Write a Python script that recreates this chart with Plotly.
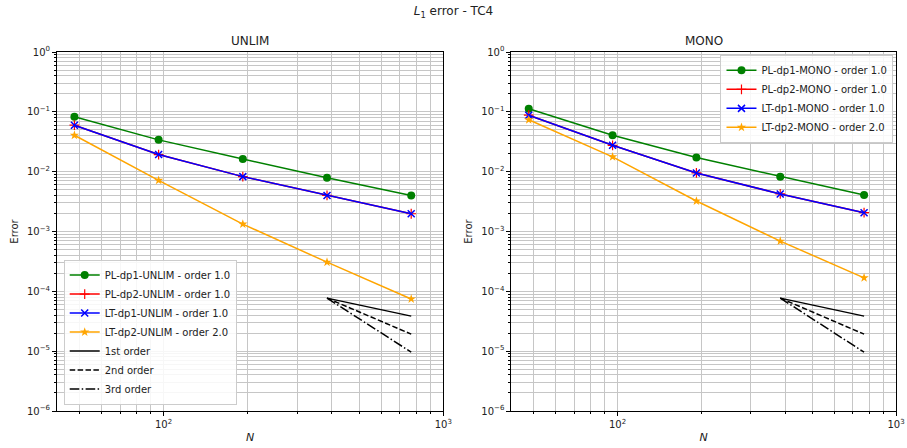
import numpy as np
import plotly.graph_objects as go
from plotly.subplots import make_subplots

N = [48, 96, 192, 384, 768]

unlim_pl_dp1 = [0.0826, 0.0340, 0.0163, 0.00794, 0.00401]
unlim_pl_dp2 = [0.0598, 0.0193, 0.00826, 0.00401, 0.00198]
unlim_lt_dp1 = [0.0598, 0.0193, 0.00826, 0.00401, 0.00198]
unlim_lt_dp2 = [0.0406, 0.00716, 0.00133, 0.000307, 0.0000745]

mono_pl_dp1 = [0.1125, 0.0406, 0.0172, 0.00826, 0.00407]
mono_pl_dp2 = [0.0879, 0.0276, 0.00952, 0.00424, 0.00206]
mono_lt_dp1 = [0.0879, 0.0276, 0.00952, 0.00424, 0.00206]
mono_lt_dp2 = [0.0736, 0.0177, 0.00323, 0.00069, 0.000168]

ref_N = [384, 768]
ref_start = 7.7e-5
ref_orders = [1, 2, 3]
ref_names = ["1st order", "2nd order", "3rd order"]
ref_dash = ["solid", "5.5px,2.4px", "9.6px,2.4px,1.5px,2.4px"]

y_tickvals = [1e-6, 1e-5, 1e-4, 1e-3, 1e-2, 1e-1, 1]
y_ticktext = ["10<sup>−6</sup>", "10<sup>−5</sup>", "10<sup>−4</sup>", "10<sup>−3</sup>",
              "10<sup>−2</sup>", "10<sup>−1</sup>", "10<sup>0</sup>"]
x_tickvals = [100, 1000]
x_ticktext = ["10<sup>2</sup>", "10<sup>3</sup>"]

FONT = "DejaVu Sans"

fig = make_subplots(rows=1, cols=2, horizontal_spacing=0.08)

styles = [
    ("green", "circle", 8, None),
    ("red", "cross-thin-open", 7, 1.2),
    ("blue", "x-thin-open", 7, 1.5),
    ("orange", "star", 7, None),
]

def add_panel(col, label, series, legend):
    names = [f"PL-dp1-{label} - order 1.0", f"PL-dp2-{label} - order 1.0",
             f"LT-dp1-{label} - order 1.0", f"LT-dp2-{label} - order 2.0"]
    for (color, sym, size, lw), name, vals in zip(styles, names, series):
        marker = dict(color=color, symbol=sym, size=size)
        if lw:
            marker["line"] = dict(color=color, width=lw)
        else:
            marker["line"] = dict(width=0)
        fig.add_trace(go.Scatter(x=N, y=vals, mode="lines+markers", name=name,
                                 line=dict(color=color, width=1.5), marker=marker,
                                 legend=legend), row=1, col=col)
    for o, nm, d in zip(ref_orders, ref_names, ref_dash):
        yv = [ref_start * (n / ref_N[0]) ** (-o) for n in ref_N]
        fig.add_trace(go.Scatter(x=ref_N, y=yv, mode="lines", name=nm,
                                 line=dict(color="black", width=1.5, dash=d),
                                 legend=legend, showlegend=(col == 1)), row=1, col=col)

add_panel(1, "UNLIM", [unlim_pl_dp1, unlim_pl_dp2, unlim_lt_dp1, unlim_lt_dp2], "legend")
add_panel(2, "MONO", [mono_pl_dp1, mono_pl_dp2, mono_lt_dp1, mono_lt_dp2], "legend2")

minor_x = [m * 10 ** k for k in (1, 2) for m in range(2, 10)]
minor_y = [m * 10.0 ** k for k in range(-6, 0) for m in range(2, 10)]

domains = {1: [0.0, 0.4604], 2: [0.5416, 1.0]}
GRID = "#c6c6c6"

for col in (1, 2):
    fig.update_xaxes(type="log", range=[1.619, 3.0], tickvals=x_tickvals, ticktext=x_ticktext,
                     domain=domains[col], automargin=False,
                     showgrid=True, gridcolor=GRID, gridwidth=0.8,
                     ticks="outside", ticklen=4, tickcolor="black",
                     minor=dict(tickvals=minor_x, ticks="outside", ticklen=2, tickcolor="black",
                                showgrid=True, gridcolor=GRID, gridwidth=0.8),
                     showline=True, linecolor="black", linewidth=1, mirror=True,
                     title=dict(text="<i>N</i>", font=dict(size=11, family=FONT), standoff=4),
                     tickfont=dict(size=10, family=FONT, color="#222"), zeroline=False,
                     row=1, col=col)
    fig.update_yaxes(type="log", range=[-6, 0], tickvals=y_tickvals, ticktext=y_ticktext,
                     automargin=False,
                     showgrid=True, gridcolor=GRID, gridwidth=0.8,
                     ticks="outside", ticklen=4, tickcolor="black",
                     minor=dict(tickvals=minor_y, ticks="outside", ticklen=2, tickcolor="black",
                                showgrid=True, gridcolor=GRID, gridwidth=0.8),
                     showline=True, linecolor="black", linewidth=1, mirror=True,
                     title=dict(text="Error", font=dict(size=10, family=FONT), standoff=6),
                     tickfont=dict(size=10, family=FONT, color="#222"), zeroline=False,
                     row=1, col=col)

leg_common = dict(bgcolor="rgba(255,255,255,0.85)", bordercolor="#cccccc", borderwidth=1,
                  font=dict(size=10, family=FONT, color="#222"), tracegroupgap=0,
                  itemwidth=30)

fig.update_layout(
    width=907, height=448,
    margin=dict(l=57, r=10.5, t=52, b=37, autoexpand=False),
    paper_bgcolor="white", plot_bgcolor="white",
    font=dict(family=FONT, size=10, color="#222"),
    title=dict(text="<i>L</i><sub>1</sub> error - TC4", x=0.5, xanchor="center",
               y=0.985, yanchor="top", font=dict(size=12, family=FONT)),
    legend=dict(x=0.008, y=0.018, xanchor="left", yanchor="bottom", **leg_common),
    legend2=dict(x=0.997, y=0.992, xanchor="right", yanchor="top", **leg_common),
    annotations=[
        dict(text="UNLIM", x=0.2302, y=1.0, xref="paper", yref="paper", xanchor="center",
             yanchor="bottom", yshift=2, showarrow=False, font=dict(size=12, family=FONT)),
        dict(text="MONO", x=0.7708, y=1.0, xref="paper", yref="paper", xanchor="center",
             yanchor="bottom", yshift=2, showarrow=False, font=dict(size=12, family=FONT)),
    ],
)

fig.write_html("out.html")
